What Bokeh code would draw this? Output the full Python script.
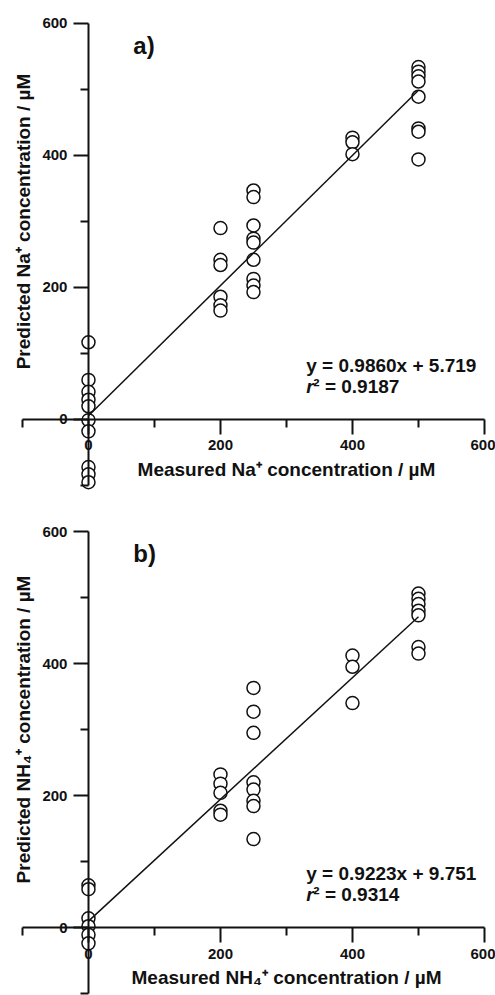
from bokeh.plotting import figure
from bokeh.models import LinearAxis, FixedTicker, Label, Range1d
from bokeh.layouts import column
from bokeh.embed import file_html
from bokeh.resources import INLINE

# ---------------- data ----------------
# Panel a) Na+
na_measured = [0, 0, 0, 0, 0, 0, 0, 0, 0, 0,
               200, 200, 200, 200, 200, 200,
               250, 250, 250, 250, 250, 250, 250, 250, 250,
               400, 400, 400,
               500, 500, 500, 500, 500, 500, 500, 500]
na_predicted = [117, 60, 42, 30, 20, -1, -18, -72, -83, -95,
                290, 242, 234, 186, 173, 165,
                347, 337, 294, 274, 268, 242, 213, 203, 193,
                427, 420, 402,
                534, 527, 520, 512, 489, 441, 436, 394]
na_slope = 0.9860
na_intercept = 5.719
na_r2 = "0.9187"

# Panel b) NH4+
nh4_measured = [0, 0, 0, 0, 0, 0,
                200, 200, 200, 200, 200,
                250, 250, 250, 250, 250, 250, 250, 250,
                400, 400, 400,
                500, 500, 500, 500, 500, 500, 500]
nh4_predicted = [64, 58, 14, 2, -11, -24,
                 232, 218, 204, 177, 171,
                 363, 327, 295, 220, 209, 192, 184, 134,
                 412, 395, 340,
                 506, 498, 490, 480, 473, 425, 415]
nh4_slope = 0.9223
nh4_intercept = 9.751
nh4_r2 = "0.9314"

fit_x = [0, 500]
major_ticks = [0, 200, 400, 600]
minor_ticks = [100, 300, 500]
stub_minor = [-100]

FONT = "Liberation Sans"
INK = "#111111"


def style_axis(ax):
    ax.axis_line_width = 2
    ax.axis_line_color = INK
    ax.major_tick_line_width = 2
    ax.minor_tick_line_width = 2
    ax.major_tick_line_color = INK
    ax.minor_tick_line_color = INK
    ax.major_tick_out = 15
    ax.major_tick_in = 0
    ax.minor_tick_out = 8
    ax.minor_tick_in = 0
    ax.major_label_text_font = FONT
    ax.major_label_text_font_style = "bold"
    ax.major_label_text_font_size = "15px"
    ax.major_label_text_color = INK
    ax.major_label_standoff = 6
    ax.axis_label_text_font = FONT
    ax.axis_label_text_font_style = "bold"
    ax.axis_label_text_font_size = "19px"
    ax.axis_label_text_color = INK
    ax.axis_label_standoff = 5


def make_panel(measured, predicted, slope, intercept, r2, letter, ion,
               height, y_start, y_end):
    p = figure(width=495, height=height, output_backend="svg",
               toolbar_location=None, x_axis_type=None, y_axis_type=None,
               x_range=Range1d(-133.3, 616.7), y_range=Range1d(y_start, y_end),
               min_border=0, outline_line_color=None)

    # main axes (0..600) with labels
    xa = LinearAxis(fixed_location=0, bounds=(0, 600),
                    ticker=FixedTicker(ticks=major_ticks, minor_ticks=minor_ticks),
                    axis_label="Measured " + ion + " concentration / µM")
    ya = LinearAxis(fixed_location=0, bounds=(0, 600),
                    ticker=FixedTicker(ticks=major_ticks, minor_ticks=minor_ticks),
                    axis_label="Predicted " + ion + " concentration / µM")
    # negative stubs (-100..0)
    xs = LinearAxis(fixed_location=0, bounds=(-100, 0),
                    ticker=FixedTicker(ticks=[], minor_ticks=stub_minor))
    ys = LinearAxis(fixed_location=0, bounds=(-100, 0),
                    ticker=FixedTicker(ticks=[], minor_ticks=stub_minor))
    for ax in (xa, ya, xs, ys):
        style_axis(ax)
    xs.major_label_text_font_size = "0px"
    ys.major_label_text_font_size = "0px"
    p.add_layout(xa, "below")
    p.add_layout(xs, "below")
    p.add_layout(ya, "left")
    p.add_layout(ys, "left")

    p.scatter(measured, predicted, marker="circle", size=13,
              fill_color="white", line_color=INK, line_width=1.5)

    fit_y = [slope * v + intercept for v in fit_x]
    p.line(fit_x, fit_y, line_color=INK, line_width=1.5)

    p.add_layout(Label(x=68, y=567, text=letter, text_font=FONT,
                       text_font_style="bold", text_font_size="24px",
                       text_color=INK, text_baseline="middle"))
    eq = "y = %.4fx + %.3f" % (slope, intercept)
    p.add_layout(Label(x=330, y=82, text=eq, text_font=FONT,
                       text_font_style="bold", text_font_size="19px",
                       text_color=INK, text_baseline="middle"))
    p.add_layout(Label(x=330, y=50, text="r", text_font=FONT,
                       text_font_style="bold italic", text_font_size="19px",
                       text_color=INK, text_baseline="middle"))
    p.add_layout(Label(x=330, y=50, x_offset=7, text="² = " + r2, text_font=FONT,
                       text_font_style="bold", text_font_size="19px",
                       text_color=INK, text_baseline="middle"))
    return p


pa = make_panel(na_measured, na_predicted, na_slope, na_intercept, na_r2,
                "a)", "Na⁺", 498, -119.7, 634.8)
pb = make_panel(nh4_measured, nh4_predicted, nh4_slope, nh4_intercept, nh4_r2,
                "b)", "NH₄⁺", 497, -103.0, 650.0)

layout = column(pa, pb, spacing=0)
open("out.html", "w").write(file_html(layout, INLINE))
